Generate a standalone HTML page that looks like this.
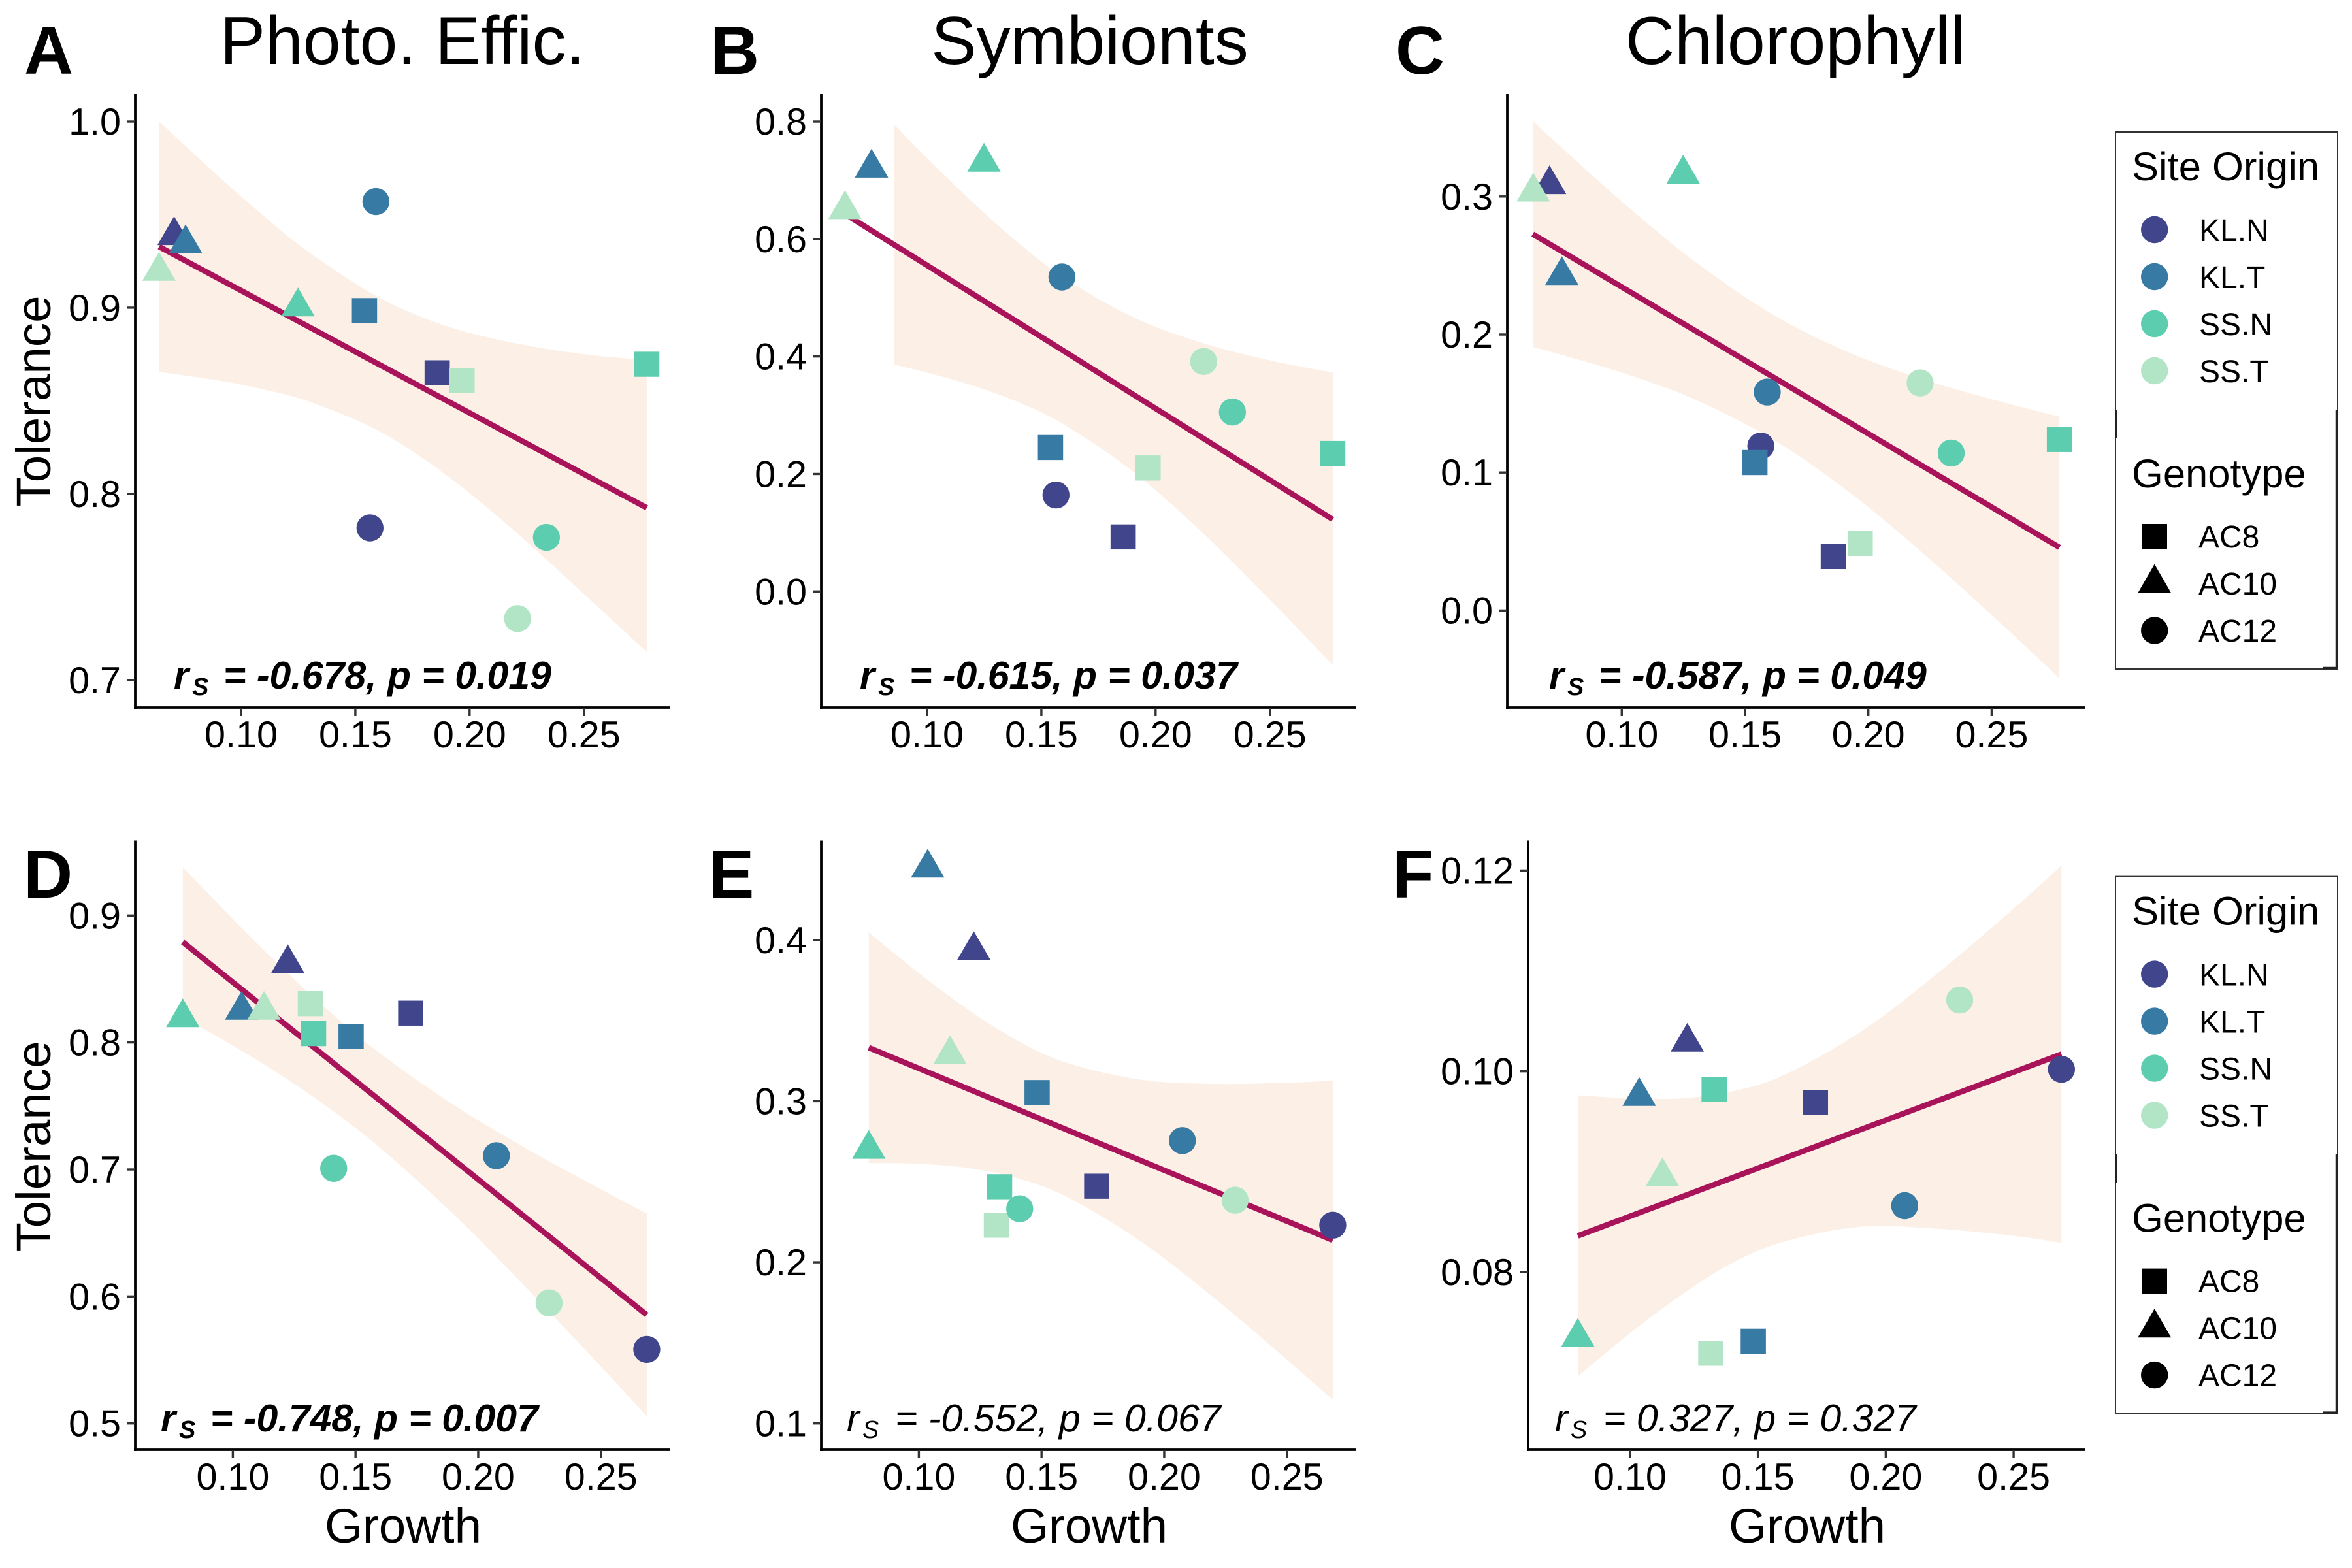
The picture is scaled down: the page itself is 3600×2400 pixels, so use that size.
<!DOCTYPE html>
<html lang="en">
<head>
<meta charset="utf-8">
<title>Tolerance vs Growth</title>
<style>
html,body{margin:0;padding:0;background:#fff}
svg{display:block}
text{font-family:"Liberation Sans",sans-serif;fill:#000}
.title{font-size:104px;text-anchor:middle}
.letter{font-size:104px;font-weight:bold}
.axis-title{font-size:74.5px;text-anchor:middle}
.anno-b{font-size:59px;font-weight:bold;font-style:italic}
.anno-r{font-size:59px;font-style:italic}
.sub{font-size:38px}
.lg-title{font-size:61.5px}
.lg-label{font-size:48px}
</style>
</head>
<body>
<svg id="figure" xmlns="http://www.w3.org/2000/svg" width="3600" height="2400" viewBox="0 0 3600 2400">
<rect x="0" y="0" width="3600" height="2400" fill="#fff"/>
<g id="panel-a"></g>
<g id="panel-b"></g>
<g id="panel-c"></g>
<g id="panel-d"></g>
<g id="panel-e"></g>
<g id="panel-f"></g>

<text class="title" x="616" y="98">Photo. Effic.</text>
<text class="title" x="1668" y="98">Symbionts</text>
<text class="title" x="2748" y="98">Chlorophyll</text>

<text class="letter" x="37" y="113">A</text>
<text class="letter" x="1087" y="113">B</text>
<text class="letter" x="2136" y="113">C</text>
<text class="letter" x="36" y="1374">D</text>
<text class="letter" x="1085" y="1374">E</text>
<text class="letter" x="2131" y="1374">F</text>

<text class="axis-title" transform="translate(77,614) rotate(-90)">Tolerance</text>
<text class="axis-title" transform="translate(77,1755) rotate(-90)">Tolerance</text>
<text class="axis-title" x="617" y="2361">Growth</text>
<text class="axis-title" x="1667" y="2361">Growth</text>
<text class="axis-title" x="2766" y="2361">Growth</text>

<text class="anno-b" y="1054"><tspan x="266">r</tspan><tspan class="sub" x="294" y="1064">S</tspan><tspan x="342" y="1054">= -0.678, p = 0.019</tspan></text>
<text class="anno-b" y="1054"><tspan x="1316">r</tspan><tspan class="sub" x="1344" y="1064">S</tspan><tspan x="1392" y="1054">= -0.615, p = 0.037</tspan></text>
<text class="anno-b" y="1054"><tspan x="2371">r</tspan><tspan class="sub" x="2399" y="1064">S</tspan><tspan x="2447" y="1054">= -0.587, p = 0.049</tspan></text>
<text class="anno-b" y="2191"><tspan x="246">r</tspan><tspan class="sub" x="274" y="2201">S</tspan><tspan x="322" y="2191">= -0.748, p = 0.007</tspan></text>
<text class="anno-r" y="2191"><tspan x="1296">r</tspan><tspan class="sub" x="1320" y="2201">S</tspan><tspan x="1370" y="2191">= -0.552, p = 0.067</tspan></text>
<text class="anno-r" y="2191"><tspan x="2380">r</tspan><tspan class="sub" x="2404" y="2201">S</tspan><tspan x="2454" y="2191">= 0.327, p = 0.327</tspan></text>

<g>
<rect x="3238" y="202" width="340" height="822" fill="#fff" stroke="#333" stroke-width="2"/>
<path d="M3239 627V671M3576.5 627V1023M3555 1022.5H3577" stroke="#222" stroke-width="3.5" fill="none"/>
<text class="lg-title" x="3263" y="276">Site Origin</text>
<circle cx="3297.7" cy="351.5" r="20.7" fill="#41468c"/>
<text class="lg-label" x="3366" y="369">KL.N</text>
<circle cx="3297.7" cy="423.5" r="20.7" fill="#377aa3"/>
<text class="lg-label" x="3366" y="441">KL.T</text>
<circle cx="3297.7" cy="495.5" r="20.7" fill="#5ccdae"/>
<text class="lg-label" x="3366" y="513">SS.N</text>
<circle cx="3297.7" cy="567.5" r="20.7" fill="#b2e5c5"/>
<text class="lg-label" x="3366" y="585">SS.T</text>
<text class="lg-title" x="3263" y="746">Genotype</text>
<rect x="3278.4" y="802" width="38.6" height="38.4" fill="#000"/>
<text class="lg-label" x="3365" y="838">AC8</text>
<polygon points="3297.7,863.5 3323.2,907.7 3272.2,907.7" fill="#000"/>
<text class="lg-label" x="3365" y="910">AC10</text>
<circle cx="3297.7" cy="965" r="20.7" fill="#000"/>
<text class="lg-label" x="3365" y="982">AC12</text>
</g>

<g transform="translate(0,1139.6)">
<rect x="3238" y="202" width="340" height="822" fill="#fff" stroke="#333" stroke-width="2"/>
<path d="M3239 627V671M3576.5 627V1023M3555 1022.5H3577" stroke="#222" stroke-width="3.5" fill="none"/>
<text class="lg-title" x="3263" y="276">Site Origin</text>
<circle cx="3297.7" cy="351.5" r="20.7" fill="#41468c"/>
<text class="lg-label" x="3366" y="369">KL.N</text>
<circle cx="3297.7" cy="423.5" r="20.7" fill="#377aa3"/>
<text class="lg-label" x="3366" y="441">KL.T</text>
<circle cx="3297.7" cy="495.5" r="20.7" fill="#5ccdae"/>
<text class="lg-label" x="3366" y="513">SS.N</text>
<circle cx="3297.7" cy="567.5" r="20.7" fill="#b2e5c5"/>
<text class="lg-label" x="3366" y="585">SS.T</text>
<text class="lg-title" x="3263" y="746">Genotype</text>
<rect x="3278.4" y="802" width="38.6" height="38.4" fill="#000"/>
<text class="lg-label" x="3365" y="838">AC8</text>
<polygon points="3297.7,863.5 3323.2,907.7 3272.2,907.7" fill="#000"/>
<text class="lg-label" x="3365" y="910">AC10</text>
<circle cx="3297.7" cy="965" r="20.7" fill="#000"/>
<text class="lg-label" x="3365" y="982">AC12</text>
</g>
</svg>

<script>
// Point order: each site (KL.N, KL.T, SS.T, SS.N) with AC8, AC10, AC12
const siteNames = ['KL.N', 'KL.T', 'SS.N', 'SS.T'];
const siteColors = ['#41468c', '#377aa3', '#5ccdae', '#b2e5c5'];
const genotypeNames = ['AC8', 'AC10', 'AC12'];
const pointSite = [0, 0, 0, 1, 1, 1, 3, 3, 3, 2, 2, 2];
const pointGenotype = [0, 1, 2, 0, 1, 2, 0, 1, 2, 0, 1, 2];

const growthTop = [0.1858, 0.0707, 0.1564, 0.154, 0.0757, 0.159, 0.1967, 0.0641, 0.221, 0.2775, 0.1249, 0.2336];
const growthBottom = [0.1725, 0.1224, 0.2687, 0.1482, 0.1036, 0.2074, 0.1316, 0.1127, 0.2289, 0.1329, 0.0796, 0.1411];

const valuesA = [0.865, 0.9388, 0.7817, 0.8984, 0.9344, 0.957, 0.8608, 0.9196, 0.733, 0.8696, 0.9005, 0.7766];
const valuesB = [0.0928, null, 0.1643, 0.2451, 0.7209, 0.5353, 0.2102, 0.6502, 0.3915, 0.2349, 0.731, 0.3055];
const valuesC = [0.0391, 0.3087, 0.1192, 0.1072, 0.2428, 0.1583, 0.0486, 0.3033, 0.1649, 0.1239, 0.3163, 0.1141];
const valuesD = [0.8231, 0.8622, 0.5583, 0.8046, 0.8255, 0.7108, 0.8306, 0.8255, 0.5949, 0.807, 0.8196, 0.7009];
const valuesE = [0.2472, 0.3935, 0.223, 0.3053, 0.4447, 0.2755, 0.223, 0.3289, 0.2385, 0.2469, 0.2702, 0.2332];
const valuesF = [0.0969, 0.1029, 0.1002, 0.0731, 0.0975, 0.0866, 0.0719, 0.0895, 0.1071, 0.0982, 0.0735, null];

const fitXA = [0.0641, 0.2775];
const fitYA = [0.9328, 0.7925];
const fitXB = [0.0641, 0.2775];
const fitYB = [0.6426, 0.1226];
const fitXC = [0.0639, 0.2775];
const fitYC = [0.2728, 0.0457];
const fitXD = [0.0796, 0.2687];
const fitYD = [0.8791, 0.5855];
const fitXE = [0.0796, 0.2687];
const fitYE = [0.3332, 0.2137];
const fitXF = [0.0796, 0.2687];
const fitYF = [0.0836, 0.1017];

const bandXA = [0.0641, 0.09, 0.11, 0.13, 0.16, 0.19, 0.22, 0.25, 0.2775];
const bandUpperA = [1.0, 0.9707, 0.9492, 0.9296, 0.9057, 0.8901, 0.8809, 0.875, 0.8718];
const bandLowerA = [0.8655, 0.8609, 0.856, 0.8494, 0.8339, 0.8099, 0.7797, 0.7462, 0.7151];
const bandXB = [0.0857, 0.10, 0.12, 0.14, 0.16, 0.19, 0.22, 0.25, 0.2775];
const bandUpperB = [0.7942, 0.7377, 0.6624, 0.5934, 0.5339, 0.4671, 0.4236, 0.3934, 0.3728];
const bandLowerB = [0.3858, 0.3725, 0.3504, 0.322, 0.2839, 0.2045, 0.1018, -0.0142, -0.1251];
const bandXC = [0.0639, 0.09, 0.11, 0.13, 0.16, 0.19, 0.22, 0.25, 0.2775];
const bandUpperC = [0.3546, 0.3121, 0.2812, 0.2524, 0.2158, 0.1886, 0.1688, 0.1531, 0.1405];
const bandLowerC = [0.191, 0.1779, 0.1664, 0.1526, 0.1254, 0.0888, 0.0448, -0.0033, -0.0491];
const bandXD = [0.0796, 0.10, 0.12, 0.14, 0.16, 0.19, 0.22, 0.25, 0.2687];
const bandUpperD = [0.9381, 0.8973, 0.859, 0.8234, 0.7915, 0.7508, 0.7161, 0.6844, 0.6653];
const bandLowerD = [0.8201, 0.7975, 0.7738, 0.7472, 0.7171, 0.6646, 0.6061, 0.5448, 0.5057];
const bandXE = [0.0796, 0.10, 0.12, 0.14, 0.16, 0.19, 0.22, 0.25, 0.2687];
const bandUpperE = [0.4048, 0.3795, 0.3569, 0.3378, 0.324, 0.3134, 0.3107, 0.3114, 0.3127];
const bandLowerE = [0.2616, 0.2611, 0.2585, 0.2522, 0.2408, 0.2134, 0.1783, 0.1396, 0.1147];
const bandXF = [0.0796, 0.10, 0.12, 0.14, 0.16, 0.19, 0.22, 0.25, 0.2687];
const bandUpperF = [0.0976, 0.0973, 0.0973, 0.098, 0.0996, 0.1039, 0.1097, 0.1162, 0.1205];
const bandLowerF = [0.0696, 0.0739, 0.0777, 0.0809, 0.083, 0.0845, 0.0843, 0.0836, 0.0829];

const xTickValues = [0.10, 0.15, 0.20, 0.25];
const xTickLabels = ['0.10', '0.15', '0.20', '0.25'];
const yTickValuesA = [0.7, 0.8, 0.9, 1.0];
const yTickLabelsA = ['0.7', '0.8', '0.9', '1.0'];
const yTickValuesB = [0.0, 0.2, 0.4, 0.6, 0.8];
const yTickLabelsB = ['0.0', '0.2', '0.4', '0.6', '0.8'];
const yTickValuesC = [0.0, 0.1, 0.2, 0.3];
const yTickLabelsC = ['0.0', '0.1', '0.2', '0.3'];
const yTickValuesD = [0.5, 0.6, 0.7, 0.8, 0.9];
const yTickLabelsD = ['0.5', '0.6', '0.7', '0.8', '0.9'];
const yTickValuesE = [0.1, 0.2, 0.3, 0.4];
const yTickLabelsE = ['0.1', '0.2', '0.3', '0.4'];
const yTickValuesF = [0.08, 0.10, 0.12];
const yTickLabelsF = ['0.08', '0.10', '0.12'];

const SVGNS = 'http://www.w3.org/2000/svg';

function make(tag, parent, attrs) {
  const node = document.createElementNS(SVGNS, tag);
  for (const key in attrs) node.setAttribute(key, attrs[key]);
  parent.appendChild(node);
  return node;
}

function linearScale(d0, p0, d1, p1) {
  return function (v) { return p0 + (v - d0) / (d1 - d0) * (p1 - p0); };
}

function smoothSegments(pts) {
  let d = '';
  for (let i = 0; i < pts.length - 1; i++) {
    const p0 = pts[Math.max(i - 1, 0)];
    const p1 = pts[i];
    const p2 = pts[i + 1];
    const p3 = pts[Math.min(i + 2, pts.length - 1)];
    const c1x = p1[0] + (p2[0] - p0[0]) / 6;
    const c1y = p1[1] + (p2[1] - p0[1]) / 6;
    const c2x = p2[0] - (p3[0] - p1[0]) / 6;
    const c2y = p2[1] - (p3[1] - p1[1]) / 6;
    d += 'C' + c1x.toFixed(1) + ' ' + c1y.toFixed(1) + ' ' + c2x.toFixed(1) + ' ' + c2y.toFixed(1) + ' ' + p2[0].toFixed(1) + ' ' + p2[1].toFixed(1);
  }
  return d;
}

function drawPanel(cfg) {
  const g = document.getElementById(cfg.id);
  const sx = linearScale(cfg.xScale[0], cfg.xScale[1], cfg.xScale[2], cfg.xScale[3]);
  const sy = linearScale(cfg.yScale[0], cfg.yScale[1], cfg.yScale[2], cfg.yScale[3]);

  const upper = cfg.bandX.map(function (x, i) { return [sx(x), sy(cfg.bandUpper[i])]; });
  const lower = cfg.bandX.map(function (x, i) { return [sx(x), sy(cfg.bandLower[i])]; }).reverse();
  const bandPath = 'M' + upper[0][0].toFixed(1) + ' ' + upper[0][1].toFixed(1) + smoothSegments(upper) +
    'L' + lower[0][0].toFixed(1) + ' ' + lower[0][1].toFixed(1) + smoothSegments(lower) + 'Z';
  const band = make('path', g, { d: bandPath, fill: '#fcefe6' });
  
  

  const fit = make('line', g, {
    x1: sx(cfg.fitX[0]), y1: sy(cfg.fitY[0]), x2: sx(cfg.fitX[1]), y2: sy(cfg.fitY[1]),
    stroke: '#a9135a', 'stroke-width': 8.5
  });
  
  

  const yAxis = make('line', g, { x1: cfg.left, y1: cfg.top, x2: cfg.left, y2: cfg.bottom + 2, stroke: '#000', 'stroke-width': 3.8 });
  
  

  const xAxis = make('line', g, { x1: cfg.left - 2, y1: cfg.bottom, x2: cfg.right, y2: cfg.bottom, stroke: '#000', 'stroke-width': 3.8 });
  
  

  xTickValues.forEach(function (v, i) {
    const px = sx(v);
    const tick = make('line', g, { x1: px, y1: cfg.bottom, x2: px, y2: cfg.bottom + 13, stroke: '#333', 'stroke-width': 3.4 });
    
    
    const label = make('text', g, { x: px, y: cfg.bottom + 61, 'text-anchor': 'middle', 'font-size': 57.5 });
    
    
    label.textContent = xTickLabels[i];
  });

  cfg.yTicks.forEach(function (v, i) {
    const py = sy(v);
    const tick = make('line', g, { x1: cfg.left - 13, y1: py, x2: cfg.left, y2: py, stroke: '#333', 'stroke-width': 3.4 });
    
    
    const label = make('text', g, { x: cfg.left - 22, y: py + 20, 'text-anchor': 'end', 'font-size': 57.5 });
    
    
    label.textContent = cfg.yLabels[i];
  });

  cfg.growth.forEach(function (x, i) {
    const y = cfg.values[i];
    if (y === null) return;
    const px = sx(x);
    const py = sy(y);
    const color = siteColors[pointSite[i]];
    const geno = pointGenotype[i];
    let mark;
    if (geno === 0) {
      mark = make('rect', g, { x: px - 19.3, y: py - 19.2, width: 38.6, height: 38.4, fill: color });
    } else if (geno === 1) {
      mark = make('polygon', g, {
        points: px + ',' + (py - 29.4) + ' ' + (px + 25.6) + ',' + (py + 14.7) + ' ' + (px - 25.6) + ',' + (py + 14.7),
        fill: color
      });
    } else {
      mark = make('circle', g, { cx: px, cy: py, r: 20.7, fill: color });
    }
    
    
  });
}

drawPanel({ id: 'panel-a', left: 207, right: 1026, top: 144, bottom: 1083,
  xScale: [0.10, 369.0, 0.25, 893.7], yScale: [1.0, 186.0, 0.7, 1040.8],
  growth: growthTop, values: valuesA, fitX: fitXA, fitY: fitYA,
  bandX: bandXA, bandUpper: bandUpperA, bandLower: bandLowerA,
  yTicks: yTickValuesA, yLabels: yTickLabelsA });
drawPanel({ id: 'panel-b', left: 1257, right: 2076, top: 144, bottom: 1083,
  xScale: [0.10, 1419.0, 0.25, 1943.7], yScale: [0.8, 186.0, 0.0, 905.3],
  growth: growthTop, values: valuesB, fitX: fitXB, fitY: fitYB,
  bandX: bandXB, bandUpper: bandUpperB, bandLower: bandLowerB,
  yTicks: yTickValuesB, yLabels: yTickLabelsB });
drawPanel({ id: 'panel-c', left: 2307, right: 3192, top: 144, bottom: 1083,
  xScale: [0.10, 2482.3, 0.25, 3048.4], yScale: [0.3, 300.8, 0.0, 934.4],
  growth: growthTop, values: valuesC, fitX: fitXC, fitY: fitYC,
  bandX: bandXC, bandUpper: bandUpperC, bandLower: bandLowerC,
  yTicks: yTickValuesC, yLabels: yTickLabelsC });
drawPanel({ id: 'panel-d', left: 207, right: 1026, top: 1286.5, bottom: 2219,
  xScale: [0.10, 356.4, 0.25, 919.7], yScale: [0.9, 1401.3, 0.5, 2178.7],
  growth: growthBottom, values: valuesD, fitX: fitXD, fitY: fitYD,
  bandX: bandXD, bandUpper: bandUpperD, bandLower: bandLowerD,
  yTicks: yTickValuesD, yLabels: yTickLabelsD });
drawPanel({ id: 'panel-e', left: 1257, right: 2076, top: 1286.5, bottom: 2219,
  xScale: [0.10, 1406.4, 0.25, 1969.7], yScale: [0.4, 1438.8, 0.1, 2178.7],
  growth: growthBottom, values: valuesE, fitX: fitXE, fitY: fitYE,
  bandX: bandXE, bandUpper: bandUpperE, bandLower: bandLowerE,
  yTicks: yTickValuesE, yLabels: yTickLabelsE });
drawPanel({ id: 'panel-f', left: 2339, right: 3192, top: 1286.5, bottom: 2219,
  xScale: [0.10, 2494.9, 0.25, 3082.1], yScale: [0.12, 1332.4, 0.08, 1946.9],
  growth: growthBottom, values: valuesF, fitX: fitXF, fitY: fitYF,
  bandX: bandXF, bandUpper: bandUpperF, bandLower: bandLowerF,
  yTicks: yTickValuesF, yLabels: yTickLabelsF });
</script>
</body>
</html>
